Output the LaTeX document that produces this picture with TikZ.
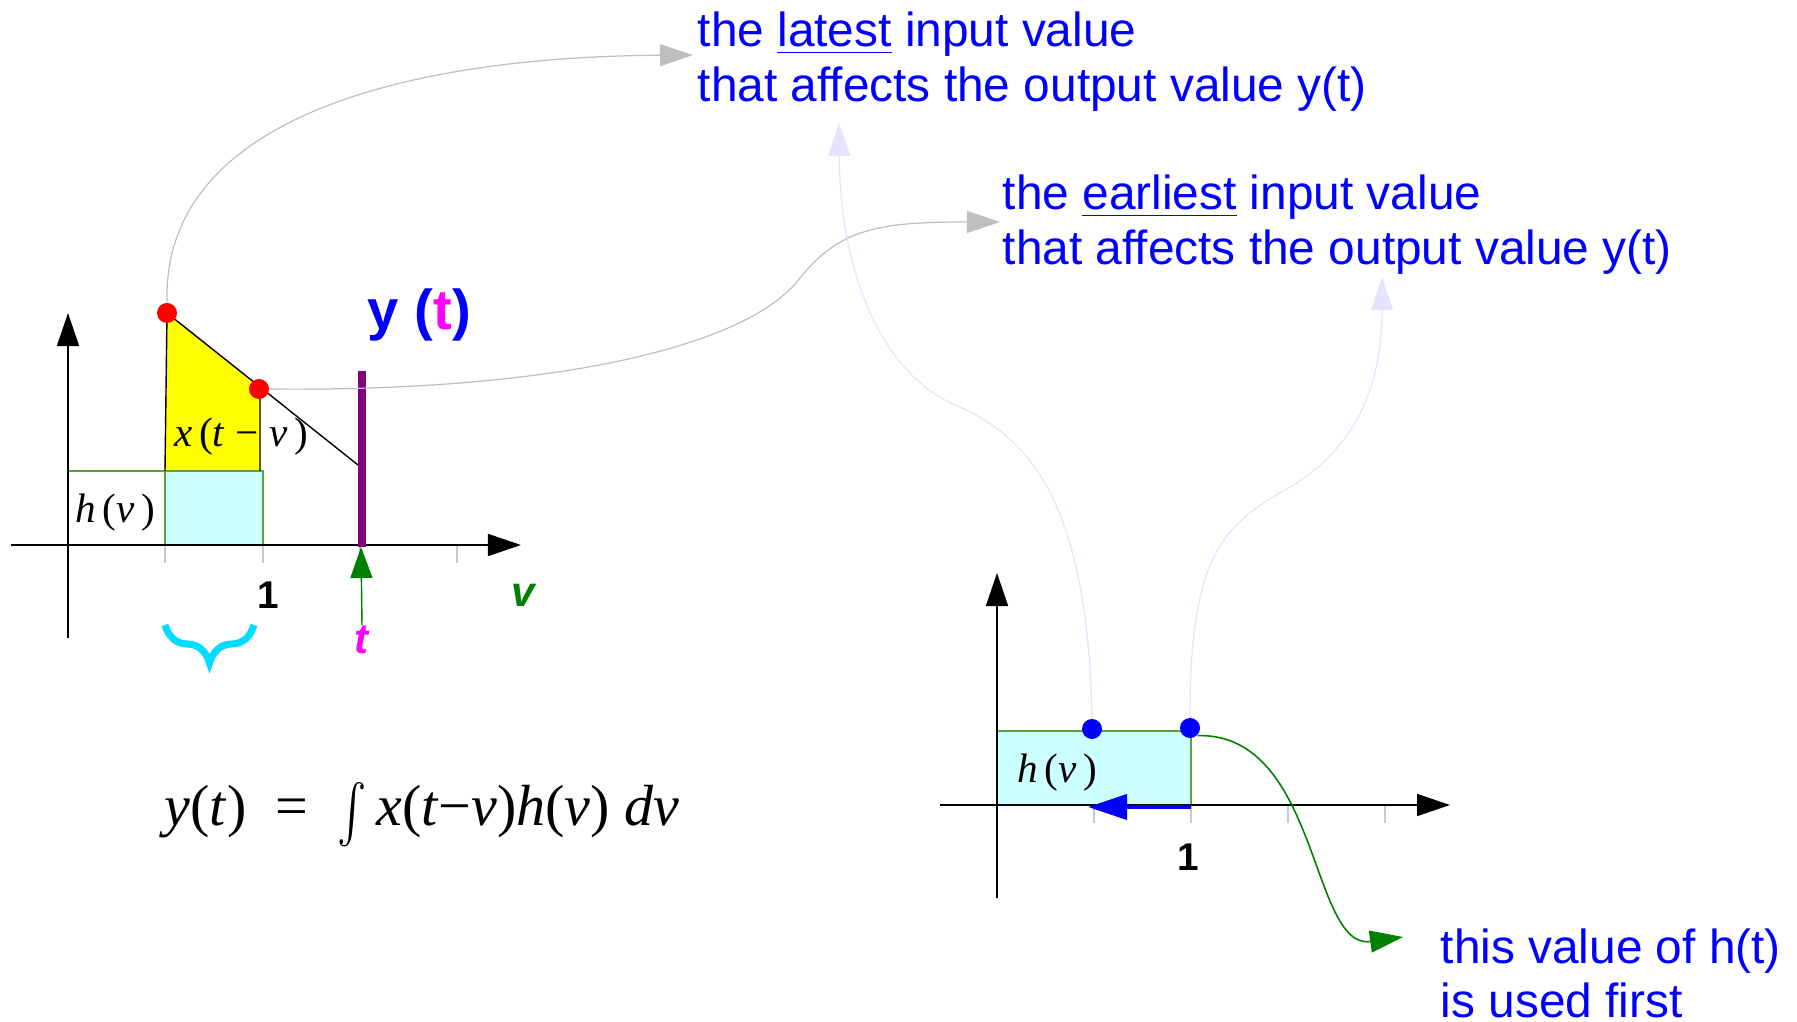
\RequirePackage{fix-cm}
\documentclass[tikz,border=0pt]{standalone}
\usepackage[no-math]{fontspec}
\setmainfont{Liberation Sans}
\newfontfamily\serifm{Liberation Serif}
\usetikzlibrary{positioning, arrows.meta, decorations.pathreplacing}

\definecolor{boxgreen}{RGB}{96,160,64}
\definecolor{darkgreen}{RGB}{0,128,0}
\definecolor{lavblue}{RGB}{228,228,255}
\definecolor{violetbar}{RGB}{128,0,128}
\definecolor{tickgray}{RGB}{200,200,200}
\definecolor{lightcyan}{RGB}{204,255,255}
\definecolor{bracecyan}{RGB}{0,221,255}
\definecolor{tmag}{RGB}{255,0,255}
\definecolor{xyellow}{RGB}{255,255,0}
\definecolor{dotred}{RGB}{255,0,0}
\definecolor{textblue}{RGB}{0,0,255}

\newcommand{\iv}[1]{\textit{#1}}

\tikzset{
  axisline/.style={black, line width=0.45pt, -{Triangle[length=0.33cm,width=0.22cm]}},
  tickmark/.style={tickgray, line width=0.45pt},
  spot/.style={circle, inner sep=0pt, minimum size=0.2cm},
  notetext/.style={textblue, font=\fontsize{13.6}{15.4}\selectfont, inner sep=0pt, anchor=base west},
  greyarrow/.style={gray!50, line width=0.35pt, -{Triangle[length=0.33cm,width=0.22cm]}},
  lavarrow/.style={lavblue, line width=0.35pt, -{Triangle[length=0.33cm,width=0.22cm]}},
  mathlbl/.style={font=\serifm\fontsize{11.7}{13}\selectfont, inner sep=0pt},
  numlbl/.style={font=\bfseries\fontsize{11}{13}\selectfont, inner sep=0pt},
  varlbl/.style={font=\bfseries\itshape\fontsize{12}{14}\selectfont, inner sep=0pt}
}

\begin{document}
\begin{tikzpicture}[x=0.01cm, y=-0.01cm]
\useasboundingbox (0,0) rectangle (1797,1022);

\fill[lightcyan] (165,471) rectangle (263,545);
\fill[xyellow] (167,313) -- (260,389) -- (260,471) -- (165,471) -- cycle;
\draw[boxgreen, line width=0.4pt] (68,471) rectangle (263,545) (165,471) -- (165,545);
\draw[line width=0.4pt] (165,471) -- (167,313) -- (358,465) (260,389) -- (260,471);
\draw[line width=0.6pt] (263,545) -- (358,545);
\foreach \x in {68,165,263,360,457} \draw[tickmark] (\x,545) -- (\x,563);
\draw[axisline] (11,545) -- (521,545);
\draw[axisline] (68,638) -- (68,313);
\draw[violetbar, line width=2pt] (362,371) -- (362,547);
\coordinate (tpos) at (361,547);

\node[spot, fill=dotred] (xa) at (167,313) {};
\node[spot, fill=dotred] (xb) at (259,389) {};
\node[mathlbl] (hleft) at (115,513) {\iv{h}\,(\iv{v}\,)};
\node[mathlbl] (xtv) at (241,437) {\iv{x}\,(\iv{t} − \iv{v}\,)};
\node[font=\bfseries\fontsize{16}{18}\selectfont, anchor=base west, inner sep=0pt] (yt) at (367,330)
  {\textcolor{textblue}{y (}\textcolor{tmag}{t}\textcolor{textblue}{)}};
\node[numlbl] (oneleft) at (268,595) {1};
\node[varlbl, text=tmag] (tlbl) at (362,640) {t};
\node[varlbl, text=darkgreen] (vlbl) at (523,595) {v};
\draw[darkgreen, line width=0.4pt, -{Triangle[length=0.31cm,width=0.22cm]}] (tlbl.north) -- (tpos);
\draw[bracecyan, line width=2pt, decorate, decoration={brace, mirror, amplitude=0.38cm}] (165,625) -- (254,625);

\node[font=\serifm\fontsize{16.5}{20}\selectfont, inner sep=0pt] (conv) at (422,815)
  {\iv{y}(\iv{t})\enspace=\enspace\raisebox{-0.5ex}{\scalebox{1.25}[1.65]{$\int$}}\,\iv{x}(\iv{t}−\iv{v})\iv{h}(\iv{v}) \iv{dv}};

\fill[lightcyan] (997,731) rectangle (1191,805);
\draw[boxgreen, line width=0.5pt] (997,731) rectangle (1191,805);
\foreach \x in {997,1094,1191,1288,1385} \draw[tickmark] (\x,805) -- (\x,823);
\draw[axisline] (940,805) -- (1450,805);
\draw[axisline] (997,898) -- (997,573);
\draw[textblue, line width=1.1pt, -{Triangle[length=0.39cm,width=0.25cm]}] (1191,807) -- (1088,807);
\node[spot, fill=textblue] (ha) at (1092,729) {};
\node[spot, fill=textblue] (hb) at (1190,728) {};
\node[mathlbl] (hright) at (1057,773) {\iv{h}\,(\iv{v}\,)};
\node[numlbl] (oneright) at (1188,857) {1};

\node[notetext] (late1) at (697,47) {the \underline{latest} input value};
\node[notetext] (late2) at ([yshift=-0.54cm]late1.base west) {that affects the output value y(t)};
\node[notetext] (early1) at (1002,210) {the \underline{earliest} input value};
\node[notetext] (early2) at ([yshift=-0.54cm]early1.base west) {that affects the output value y(t)};
\node[notetext] (first1) at (1440,963) {this value of h(t)};
\node[notetext] (first2) at ([yshift=-0.54cm]first1.base west) {is used first};

\coordinate (latetip) at (693,55);
\coordinate (earlytip) at (1000,222);
\coordinate (lavtipa) at (839,123);
\coordinate (lavtipb) at (1382,277);
\coordinate (firsttip) at (1403,937);

\draw[greyarrow] (xa.north) .. controls (162,120) and (400,57) .. (latetip);
\draw[greyarrow] (xb.east) .. controls (560,392) and (750,345) .. (800,278)
  .. controls (840,228) and (880,222) .. (earlytip);
\draw[lavarrow] (ha.north) .. controls (1088,520) and (1040,440) .. (955,405)
  .. controls (880,372) and (840,270) .. (lavtipa);
\draw[lavarrow] (hb.north) .. controls (1190,560) and (1220,527) .. (1285,490)
  .. controls (1345,456) and (1382,400) .. (lavtipb);
\draw[darkgreen, line width=0.45pt, -{Triangle[length=0.33cm,width=0.22cm]}] (hb.south east)
  .. controls (1320,733) and (1310,950) .. (firsttip);
\end{tikzpicture}
\end{document}
